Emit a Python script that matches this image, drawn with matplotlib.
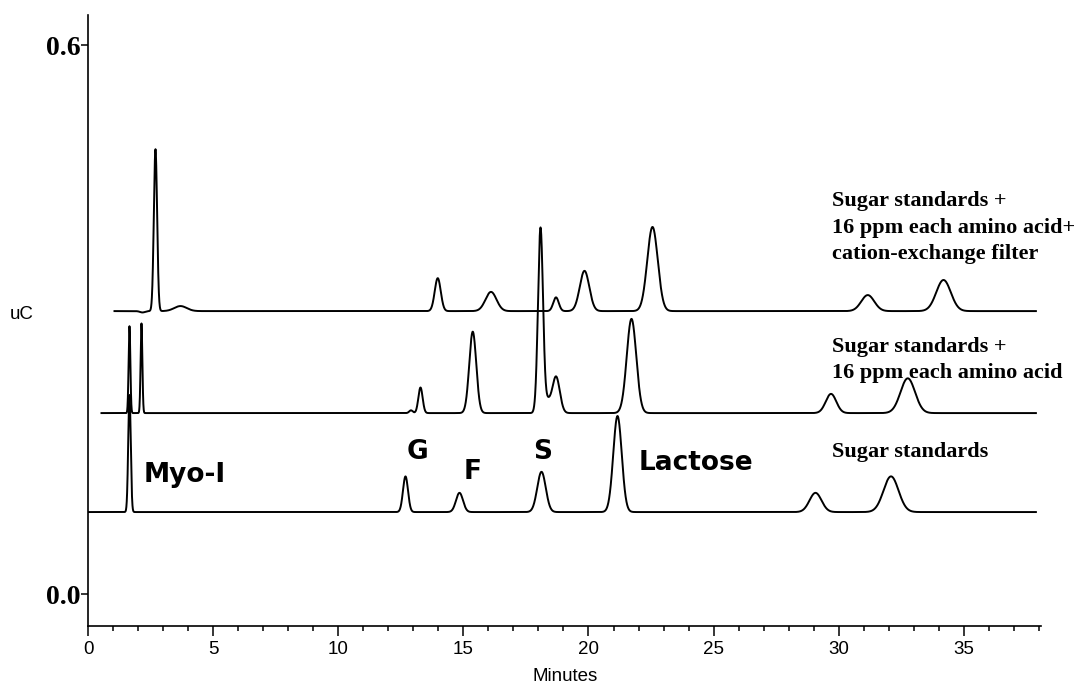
import numpy as np
import matplotlib.pyplot as plt

# peak tables: retention time (min),
# height above baseline (uC), peak sigma (min)
std_rt = [1.64, 12.68, 14.84, 18.12, 21.16, 29.08, 32.10]
std_h = [0.128, 0.039, 0.021, 0.044, 0.105, 0.021, 0.039]
std_w = [0.05, 0.10, 0.14, 0.17, 0.17, 0.24, 0.30]
std_base = 0.0896
std_span = (0.0, 37.9)

aa_rt = [1.64, 2.12, 12.90, 13.28, 15.37, 18.08, 18.35, 18.70, 21.72, 29.70, 32.77]
aa_h = [0.095, 0.098, 0.003, 0.028, 0.089, 0.202, 0.012, 0.040, 0.103, 0.021, 0.038]
aa_w = [0.035, 0.035, 0.07, 0.085, 0.14, 0.10, 0.12, 0.15, 0.19, 0.21, 0.29]
aa_base = 0.1978
aa_span = (0.52, 37.9)

cx_rt = [2.16, 2.68, 3.68, 13.97, 16.10, 18.70, 19.84, 22.56, 31.17, 34.20]
cx_h = [-0.0015, 0.177, 0.0055, 0.036, 0.021, 0.015, 0.044, 0.092, 0.0175, 0.034]
cx_w = [0.10, 0.065, 0.25, 0.12, 0.22, 0.11, 0.19, 0.21, 0.26, 0.29]
cx_base = 0.3093
cx_span = (1.04, 37.9)

trace_labels = [
    ['Sugar standards'],
    ['Sugar standards +', '16 ppm each amino acid'],
    ['Sugar standards +', '16 ppm each amino acid+', 'cation-exchange filter'],
]
peak_names = ['Myo-I', 'G', 'F', 'S', 'Lactose']


def trace(span, base, rt, h, w):
    t = np.arange(span[0], span[1], 0.005)
    y = np.full_like(t, base)
    for r, a, s in zip(rt, h, w):
        y += a * np.exp(-0.5 * ((t - r) / s) ** 2)
    return t, y


fig = plt.figure(figsize=(10.79, 6.85), dpi=100)
ax = fig.add_axes([0.082, 0.0861, 0.8828, 0.892])

for args in [(std_span, std_base, std_rt, std_h, std_w),
             (aa_span, aa_base, aa_rt, aa_h, aa_w),
             (cx_span, cx_base, cx_rt, cx_h, cx_w)]:
    t, y = trace(*args)
    ax.plot(t, y, color='black', lw=1.4)

ax.set_xlim(0, 38.1)
ax.set_ylim(-0.035, 0.633)
ax.spines['top'].set_visible(False)
ax.spines['right'].set_visible(False)
for s in ('left', 'bottom'):
    ax.spines[s].set_linewidth(1.2)

ax.set_xticks(np.arange(0, 36, 5))
ax.set_xticks(np.arange(0, 39, 1), minor=True)
ax.tick_params(axis='x', which='major', direction='out', length=7, width=1.1,
               pad=3.5, labelsize=13.5)
ax.tick_params(axis='x', which='minor', direction='out', length=3.8, width=1.1)
for lab in ax.get_xticklabels():
    lab.set_family('Liberation Sans')

ax.set_yticks([0.0, 0.6])
ax.set_yticklabels(['0.0', '0.6'], family='Liberation Serif',
                   fontweight='bold', fontsize=20)
ax.tick_params(axis='y', direction='out', length=4.7, width=1.1, pad=1)

ax.set_xlabel('Minutes', family='Liberation Sans', fontsize=13.5, va='center')
ax.xaxis.set_label_coords(0.5, -0.082)
ax.set_ylabel('uC', family='Liberation Sans', fontsize=13.5, rotation=0,
              ha='center', va='center')
ax.yaxis.set_label_coords(-0.0703, 0.51)


def px(x, y):
    # pixel position in the reference -> data coords
    return (x - 88.5) / 25.0, (594 - y) / 915.0


# peak labels
name_pos = [(144, 482, 'left'), (418, 459, 'center'), (473, 479, 'center'),
            (543, 459, 'center'), (639, 470, 'left')]
for name, (x, y, ha) in zip(peak_names, name_pos):
    ax.text(*px(x, y), name, family='DejaVu Sans', fontweight='bold',
            fontsize=19, ha=ha, va='baseline')

# trace labels
label_baselines = [[457], [352, 378], [206, 233, 259]]
for lines, ys in zip(trace_labels, label_baselines):
    for line, y in zip(lines, ys):
        ax.text(*px(832, y), line, family='Liberation Serif',
                fontweight='bold', fontsize=16, ha='left', va='baseline')

fig.savefig('out.png', dpi=100)
